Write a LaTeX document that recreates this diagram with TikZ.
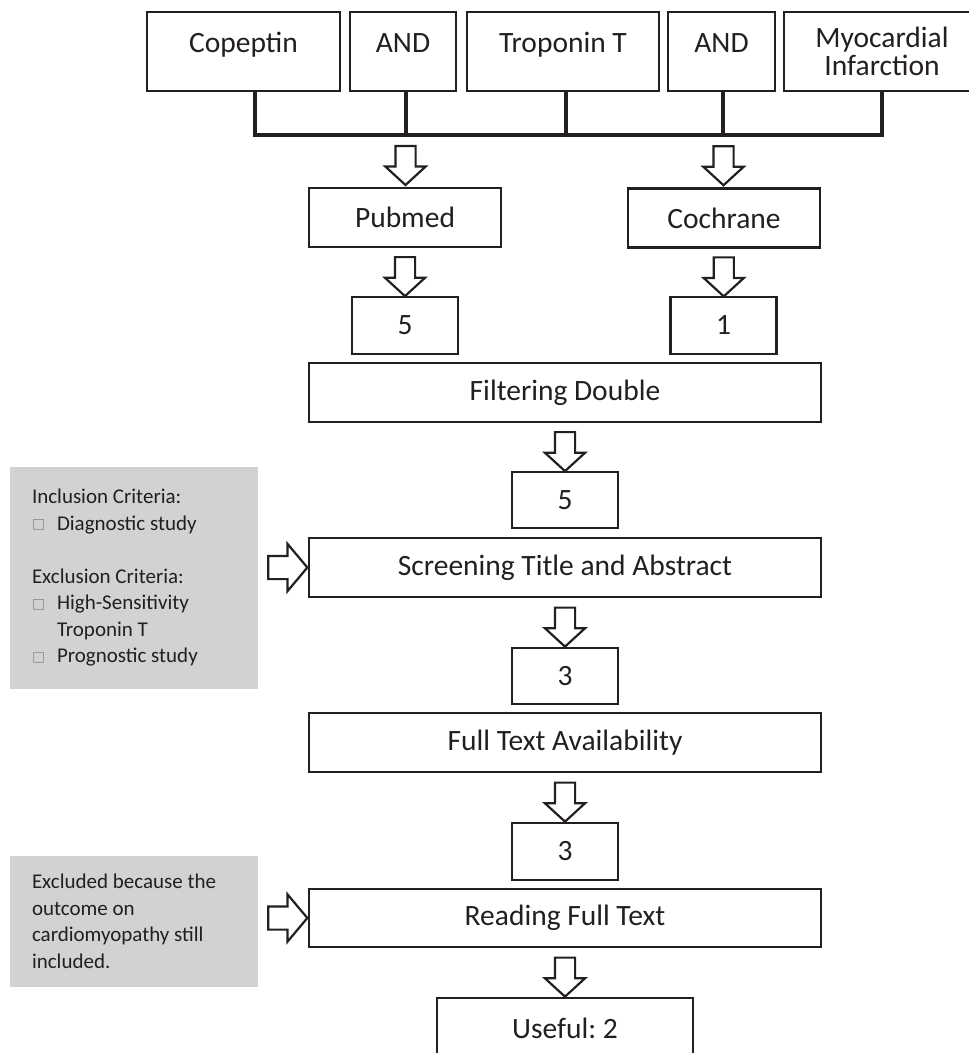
\documentclass[tikz,border=0pt]{standalone}
\usepackage{fontspec}
\setmainfont{Carlito}
\newfontfamily\symfont{DejaVu Sans}
\usepackage{xcolor}
\usetikzlibrary{calc,shapes.arrows}
\definecolor{ink}{HTML}{231F20}
\definecolor{panel}{HTML}{D1D2D4}
\definecolor{bullet}{HTML}{8A8A8C}
\newcommand{\bsq}{\makebox[25pt][l]{\raisebox{1.5pt}{\symfont\fontsize{14}{14}\selectfont\textcolor{bullet}{□}}}}
\frenchspacing

\begin{document}
\begin{tikzpicture}[x=1pt, y=-1pt, ink,
  box/.style={draw=ink, line width=2.5pt, inner sep=0pt, text=ink, font=\fontsize{29.5}{27}\selectfont},
  top/.style={box, minimum height=79pt, text height=20pt, text depth=19pt},
  src/.style={box, minimum width=192pt, minimum height=59pt},
  num/.style={box, minimum width=106pt, minimum height=56pt},
  wide/.style={box, minimum width=512pt, minimum height=59pt},
  grey node/.style={fill=panel, inner xsep=22pt, inner ysep=0pt, minimum width=248pt, text width=204pt, align=flush left, text=ink, font=\fontsize{21}{26.5}\selectfont},
  down/.style={single arrow, draw=ink, line width=2.2pt, inner xsep=0pt, inner ysep=9pt, minimum height=39pt, minimum width=40pt, single arrow head extend=10pt, single arrow tip angle=95, rotate=-90},
  side/.style={single arrow, draw=ink, line width=2.2pt, inner xsep=0pt, inner ysep=10.5pt, minimum height=39pt, minimum width=46pt, single arrow head extend=12pt, single arrow tip angle=100},
  bar/.style={line width=3.5pt}]
\useasboundingbox (0,0) rectangle (969,1053);

% search terms
\node[top, minimum width=193pt] (cop) at (243.5,51.5) {Copeptin};
\node[top, minimum width=106pt] (and1) at (403,51.5) {AND};
\node[top, minimum width=192pt] (trop) at (563,51.5) {Troponin T};
\node[top, minimum width=107pt] (and2) at (721.5,51.5) {AND};
\node[top, minimum width=196pt, text height=15pt, text depth=24pt] (myo) at (882,51.5) {\begin{tabular}[t]{@{}c@{}}Myocardial\\Infarction\end{tabular}};

\coordinate (b1) at (255,135);
\coordinate (b2) at (406,135);
\coordinate (b3) at (566,135);
\coordinate (b4) at (723,135);
\coordinate (b5) at (882,135);
\draw[bar] (cop.south -| b1) -- (b1) -- (b5) -- (myo.south -| b5);
\draw[bar] (and1.south -| b2) -- (b2);
\draw[bar] (trop.south -| b3) -- (b3);
\draw[bar] (and2.south -| b4) -- (b4);

% flow
\node[src] (pub) at (405,217.5) {Pubmed};
\node[src] (coch) at (724,218) {Cochrane};
\node[num, minimum height=57pt] (n5a) at (405,325.5) {5};
\node[num, minimum height=57pt] (n1) at (723.5,325.5) {1};
\node[wide] (filt) at (565,392.5) {Filtering Double};
\node[num] (n5b) at (565,500) {5};
\node[wide] (scr) at (565,567.5) {Screening Title and Abstract};
\node[num] (n3a) at (565,676) {3};
\node[wide] (ava) at (565,742.5) {Full Text Availability};
\node[num, minimum height=57pt] (n3b) at (565,851.5) {3};
\node[wide, minimum height=58pt] (rd) at (565,918) {Reading Full Text};
\node[box, minimum width=256pt, minimum height=60pt] (use) at (565,1028) {Useful: 2};

% criteria
\node[grey node, minimum height=222pt] (inc) at (134,578) {Inclusion Criteria:\\ \bsq Diagnostic study\\[26.5pt] Exclusion Criteria:\\ \bsq High-Sensitivity\\ \hspace*{25pt}Troponin T\\ \bsq Prognostic study};
\node[grey node, minimum height=131pt] (exc) at (134,921.5) {Excluded because the\\ outcome on\\ cardiomyopathy still\\ included.};

% block arrows
\node[down] (d1) at ($(b2)!0.5!(pub.north)$) {};
\node[down] (d2) at ($(b4)!0.5!(coch.north)$) {};
\node[down] (d3) at ($(pub.south)!0.5!(n5a.north)$) {};
\node[down] (d4) at ($(coch.south)!0.5!(n1.north)$) {};
\node[down] (d5) at ($(filt.south)!0.5!(n5b.north)$) {};
\node[down] (d6) at ($(scr.south)!0.5!(n3a.north)$) {};
\node[down] (d7) at ($(ava.south)!0.5!(n3b.north)$) {};
\node[down] (d8) at ($(rd.south)!0.5!(use.north)$) {};
\node[side] (s1) at ($(inc.east |- scr.west)!0.5!(scr.west)$) {};
\node[side] (s2) at ($(exc.east |- rd.west)!0.5!(rd.west)$) {};
\end{tikzpicture}
\end{document}
